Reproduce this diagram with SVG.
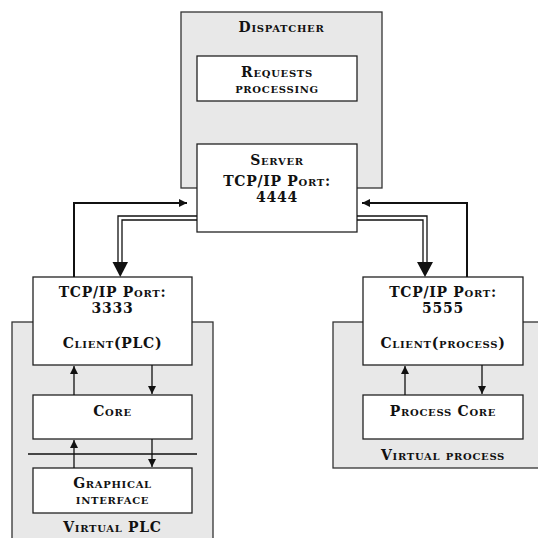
<svg xmlns="http://www.w3.org/2000/svg" width="538" height="538" viewBox="0 0 538 538">
<defs>
<style>
.grp{fill:#e8e8e8;stroke:#333;stroke-width:1.3}
.box{fill:#fff;stroke:#222;stroke-width:1.3}
.t{font-family:"DejaVu Serif","Liberation Serif",serif;font-weight:bold;font-variant:small-caps;font-size:14px;letter-spacing:0.7px;fill:#111;text-anchor:middle}
.ln{fill:none;stroke:#111;stroke-width:2}
.th{fill:none;stroke:#111;stroke-width:1.3}
.hd{fill:#111}
</style>
<marker id="ah" viewBox="0 0 10 10" refX="10" refY="5" markerWidth="8" markerHeight="8" markerUnits="userSpaceOnUse" orient="auto"><path d="M0,0 L10,5 L0,10 Z" fill="#111"/></marker>
<marker id="as" viewBox="0 0 10 10" refX="10" refY="5" markerWidth="8" markerHeight="8" markerUnits="userSpaceOnUse" orient="auto"><path d="M0,0 L10,5 L0,10 Z" fill="#111"/></marker>
</defs>
<rect width="538" height="538" fill="#fff"/>

<g id="dispatcher">
<rect class="grp" x="181" y="12" width="201" height="176"/>
<text class="t" x="281.5" y="32">Dispatcher</text>
</g>
<g id="requests">
<rect class="box" x="197" y="56" width="160" height="45"/>
<text class="t" x="277" y="77">Requests</text>
<text class="t" x="277" y="93">processing</text>
</g>

<g id="virtual-plc">
<rect class="grp" x="12" y="322" width="201" height="230"/>
<line x1="28" y1="454" x2="197" y2="454" stroke="#111" stroke-width="1.3"/>
<text class="t" x="112.5" y="532">Virtual PLC</text>
</g>
<g id="virtual-process">
<rect class="grp" x="333" y="322" width="215" height="146"/>
<text class="t" x="443" y="460">Virtual process</text>
</g>

<g id="server">
<rect class="box" x="197" y="144" width="160" height="88"/>
<text class="t" x="277" y="165">Server</text>
<text class="t" x="277" y="186">TCP/IP Port:</text>
<text class="t" x="277" y="202">4444</text>
</g>
<g id="client-plc">
<rect class="box" x="33" y="277" width="159" height="88"/>
<text class="t" x="112.5" y="297">TCP/IP Port:</text>
<text class="t" x="112.5" y="313">3333</text>
<text class="t" x="112.5" y="348">Client(PLC)</text>
</g>
<g id="client-process">
<rect class="box" x="363" y="277" width="160" height="88"/>
<text class="t" x="443" y="297">TCP/IP Port:</text>
<text class="t" x="443" y="313">5555</text>
<text class="t" x="443" y="348">Client(process)</text>
</g>
<g id="core">
<rect class="box" x="33" y="395" width="159" height="44"/>
<text class="t" x="112.5" y="416">Core</text>
</g>
<g id="graphical-interface">
<rect class="box" x="33" y="468" width="159" height="45"/>
<text class="t" x="112.5" y="488">Graphical</text>
<text class="t" x="112.5" y="504">interface</text>
</g>
<g id="process-core">
<rect class="box" x="363" y="395" width="160" height="44"/>
<text class="t" x="443" y="416">Process Core</text>
</g>

<g id="connectors">
<polyline class="ln" points="74,277 74,203 187,203" marker-end="url(#ah)"/>
<polyline class="ln" points="467,277 467,203 362,203" marker-end="url(#ah)"/>
<polyline class="th" points="197,216 118,216 118,264"/>
<polyline class="th" points="197,220 122,220 122,264"/>
<path class="hd" d="M112.5,262 L128,262 L120.25,277 Z"/>
<polyline class="th" points="357,216 427,216 427,264"/>
<polyline class="th" points="357,220 423,220 423,264"/>
<path class="hd" d="M417,262 L433,262 L425,277 Z"/>
<line class="th" x1="74" y1="395" x2="74" y2="366" marker-end="url(#as)"/>
<line class="th" x1="152" y1="365" x2="152" y2="394" marker-end="url(#as)"/>
<line class="th" x1="74" y1="468" x2="74" y2="440" marker-end="url(#as)"/>
<line class="th" x1="152" y1="439" x2="152" y2="467" marker-end="url(#as)"/>
<line class="th" x1="405" y1="395" x2="405" y2="366" marker-end="url(#as)"/>
<line class="th" x1="482" y1="365" x2="482" y2="394" marker-end="url(#as)"/>
</g>
</svg>
